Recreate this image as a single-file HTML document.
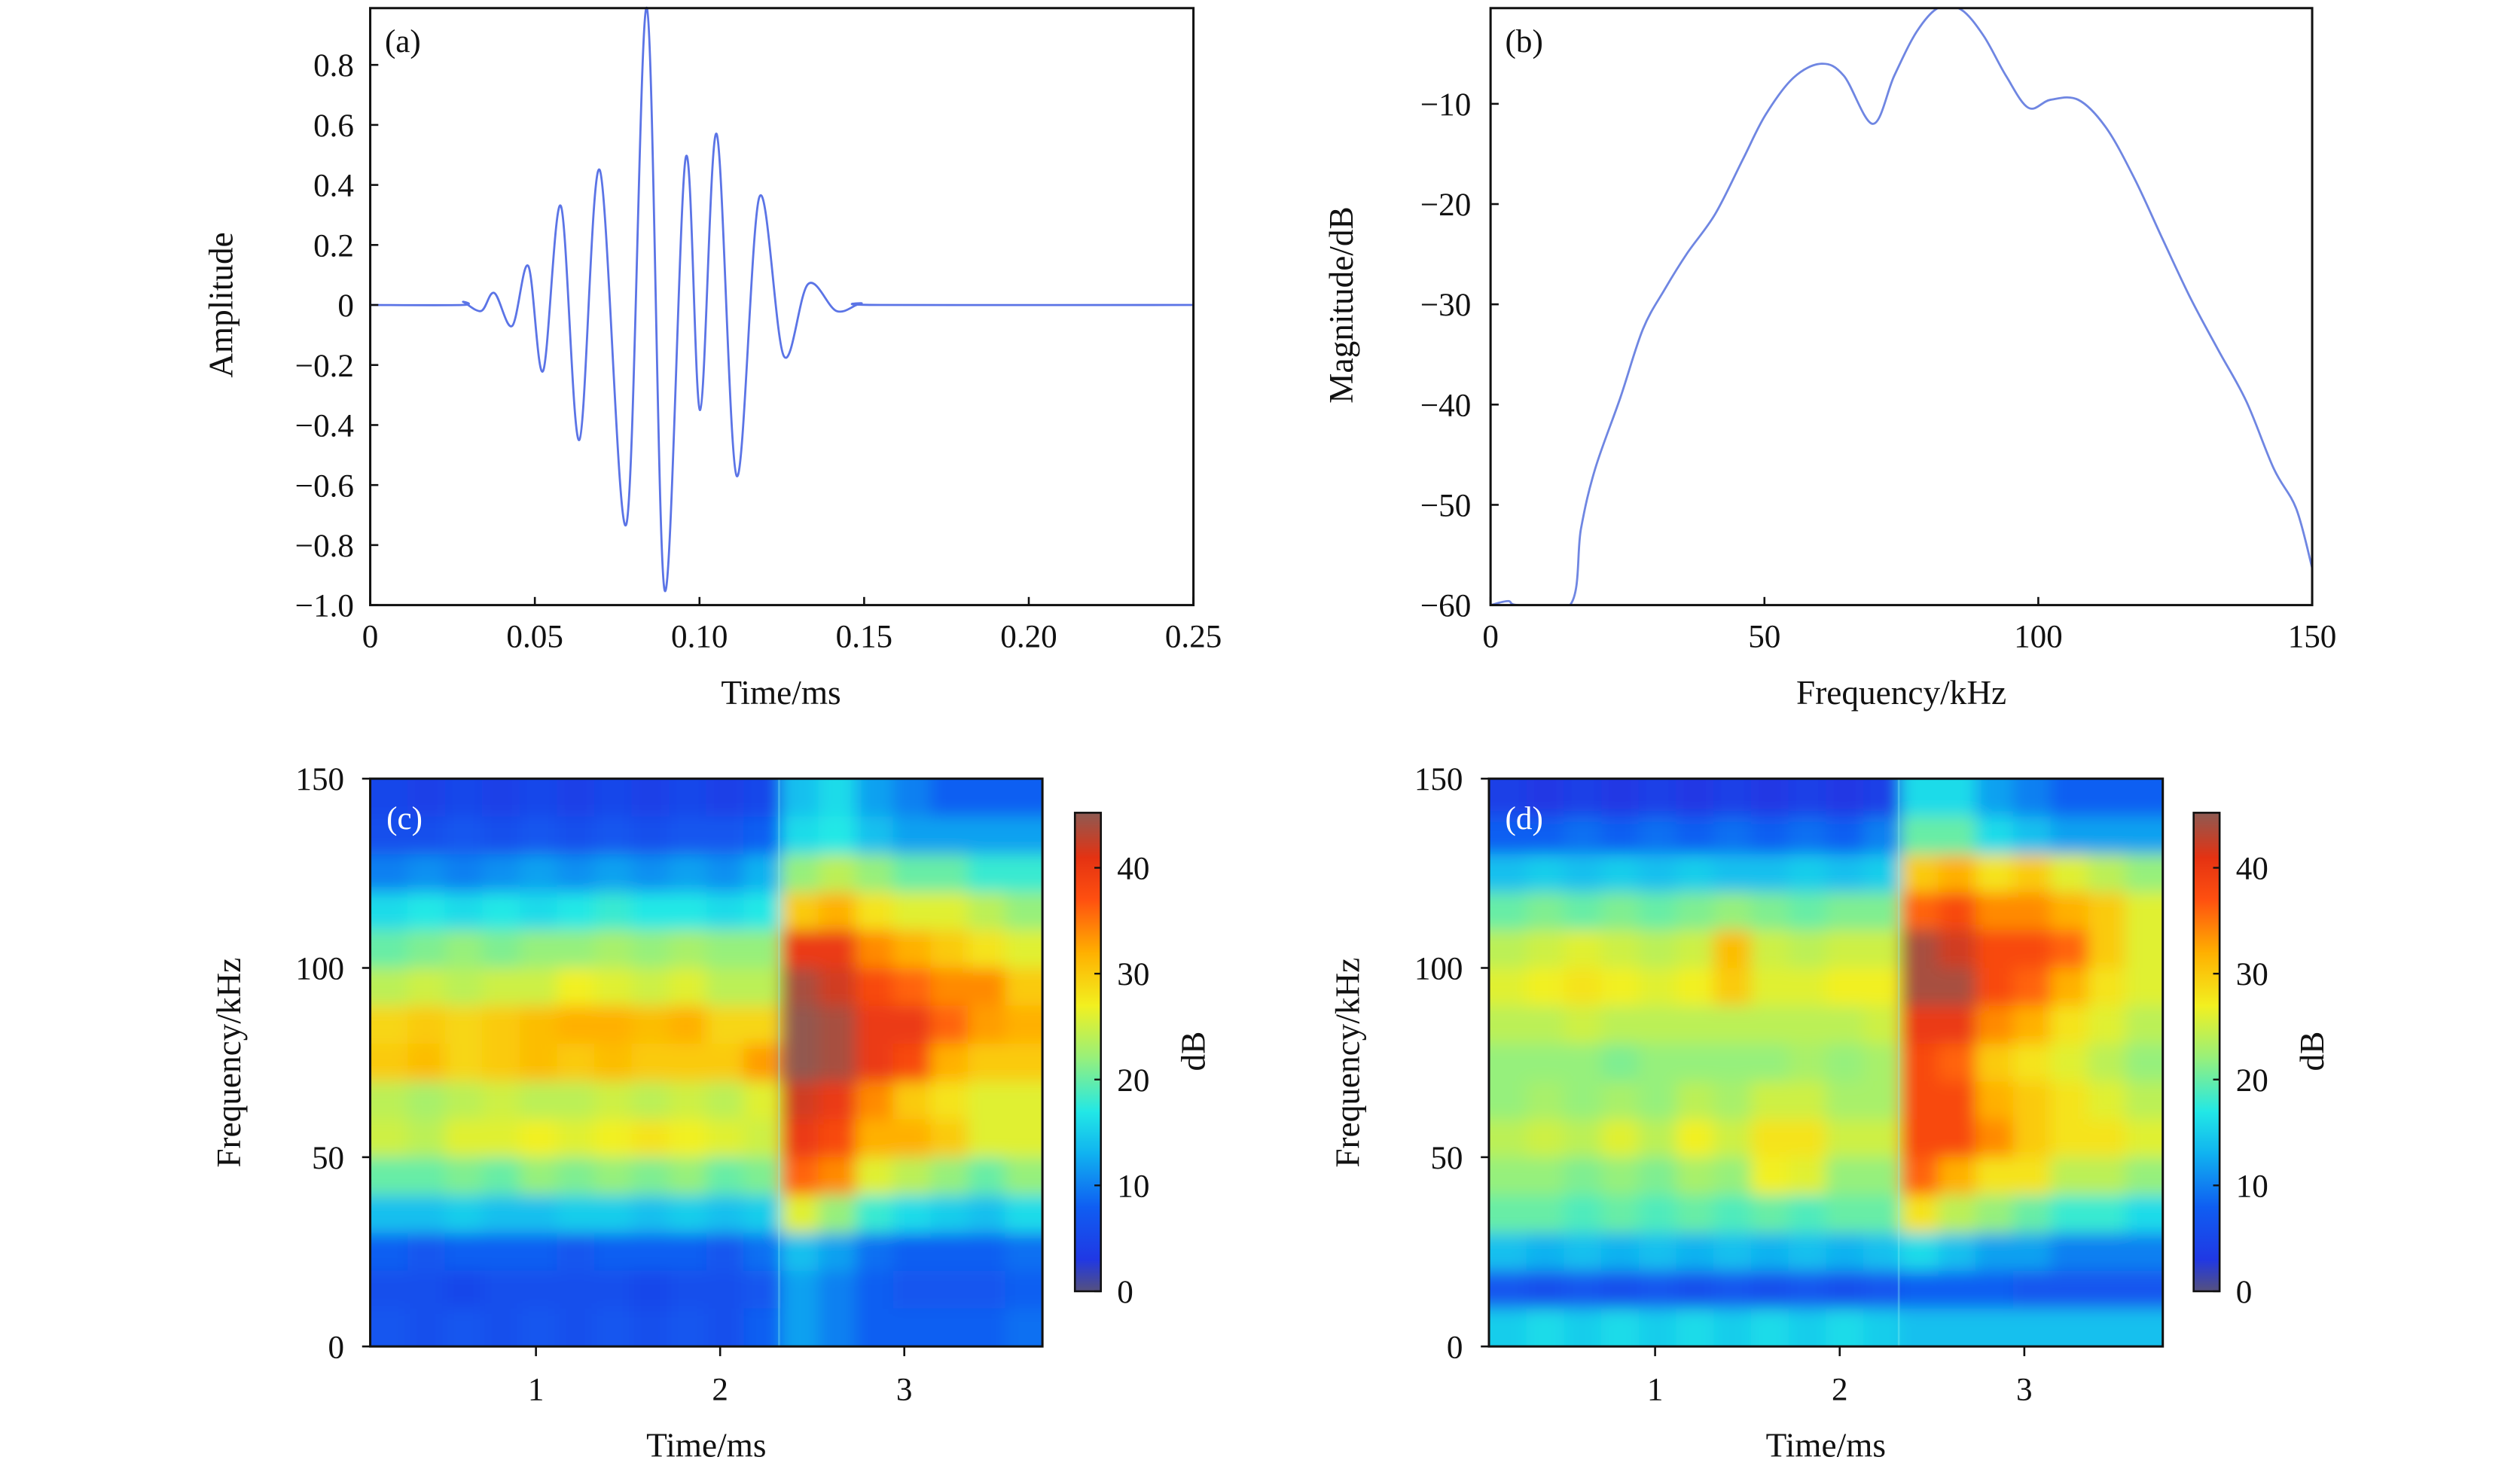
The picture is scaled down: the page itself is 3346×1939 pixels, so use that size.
<!DOCTYPE html>
<html><head><meta charset="utf-8"><style>
html,body{margin:0;padding:0;background:#fff;}
svg{display:block;}
text{font-family:"Liberation Serif",serif;fill:#111;}
</style></head><body>
<svg id="fig" width="3346" height="1939" viewBox="0 0 1552 900" preserveAspectRatio="none" xmlns="http://www.w3.org/2000/svg">
<defs>
<filter id="blur" x="-5%" y="-5%" width="110%" height="110%"><feGaussianBlur stdDeviation="5"/></filter>
<clipPath id="clipC"><rect x="228" y="480" width="414" height="350"/></clipPath>
<clipPath id="clipD"><rect x="917" y="480" width="415" height="350"/></clipPath>
<clipPath id="clipB"><rect x="918" y="5" width="506" height="368"/></clipPath>
</defs>
</svg>
<script>
// ---------- data ----------
const waveT = [0,0.028,0.0283,0.0337,0.0377,0.0431,0.048,0.0525,0.0579,0.0635,0.0697,0.0778,0.084,0.0894,0.0958,0.1002,0.1052,0.1113,0.1182,0.1256,0.133,0.1416,0.149,0.155,0.25];
const waveA = [0,0,0.01,-0.02,0.04,-0.07,0.13,-0.22,0.33,-0.45,0.45,-0.73,0.99,-0.95,0.49,-0.35,0.57,-0.57,0.36,-0.17,0.07,-0.02,0.005,0,0];
const specF = [0,3.2,5,14.5,16.5,19.1,23.7,27.8,31.8,35.9,41,46.1,50.2,55.3,60.4,64.5,69.8,73.7,77.8,81.8,85.9,90,94.1,98.2,102.2,107.3,112.4,117.6,122.7,127.8,132.9,138,143,147.1,150];
const specDB = [-60,-59.6,-60,-60,-52.4,-46.4,-39.3,-32.5,-28.5,-24.9,-21,-15.5,-11.1,-7.4,-6,-7.2,-12,-7.2,-2.8,-0.4,-0.6,-3.2,-7.2,-10.4,-9.6,-9.6,-12.4,-17.5,-23.5,-29.4,-34.6,-39.7,-46.4,-50.4,-56.3];
const aTicksY = [0.8,0.6,0.4,0.2,0,-0.2,-0.4,-0.6,-0.8,-1.0];
const aTickLabY = ["0.8","0.6","0.4","0.2","0","−0.2","−0.4","−0.6","−0.8","−1.0"];
const aTicksX = [0,0.05,0.10,0.15,0.20,0.25];
const aTickLabX = ["0","0.05","0.10","0.15","0.20","0.25"];
const bTicksY = [-10,-20,-30,-40,-50,-60];
const bTickLabY = ["−10","−20","−30","−40","−50","−60"];
const bTicksX = [0,50,100,150];
const sTicksY = [150,100,50,0];
const sTicksX = [1,2,3];
const cbTicks = [40,30,20,10,0];
const specC = [
[5,6,10,16,20,24,29,30,24,25,20,14,8,6,7],
[4,6,11,17,21,25,30,31,23,24,20,14,7,6,6],
[5,7,10,16,22,24,29,29,24,26,21,15,8,5,7],
[4,6,11,17,21,25,30,30,25,26,20,14,8,6,6],
[5,7,12,16,22,25,31,31,24,27,22,14,8,6,7],
[4,6,11,17,22,27,32,30,24,26,21,15,7,6,6],
[5,7,12,18,23,26,32,31,25,27,22,15,8,6,7],
[4,6,11,17,22,25,31,30,24,28,21,14,8,5,6],
[5,7,12,17,23,26,32,30,25,27,22,15,8,6,7],
[4,7,11,16,22,24,29,30,24,26,20,14,7,6,6],
[5,8,13,17,22,24,29,33,26,25,21,15,9,7,8],
[14,16,22,30,40,44,45,45,42,40,36,26,14,12,12],
[16,17,24,32,40,42,44,44,40,38,34,22,12,10,10],
[12,14,22,28,34,38,40,40,34,32,26,18,9,8,8],
[10,12,20,26,32,36,40,38,30,32,24,16,8,7,8],
[8,12,20,26,30,34,36,32,28,30,22,15,8,7,8],
[8,12,18,24,28,34,33,30,26,26,20,14,8,7,8],
[8,12,18,22,26,30,32,30,26,26,22,16,9,8,9]];
const specD = [
[4,8,14,20,24,26,24,22,22,24,22,20,14,7,15],
[3,8,15,21,25,27,24,22,23,25,22,20,13,6,16],
[4,9,14,20,26,28,25,22,22,24,21,19,14,7,15],
[3,8,15,21,25,27,24,21,23,26,22,20,13,6,16],
[4,9,14,20,24,26,24,22,22,24,21,19,14,7,15],
[3,8,15,21,25,27,24,22,24,27,23,20,13,6,16],
[4,9,14,22,31,30,24,22,23,25,22,19,14,7,15],
[3,8,14,21,25,26,24,22,25,28,27,20,13,6,16],
[4,9,15,20,24,26,24,23,25,28,26,19,14,7,15],
[3,8,14,21,25,27,24,22,23,25,22,20,13,6,16],
[4,10,15,21,25,27,25,23,23,25,22,20,14,7,15],
[16,20,30,36,44,44,40,38,38,38,36,28,16,8,14],
[16,20,32,38,42,44,40,36,38,38,32,24,14,8,14],
[12,16,28,34,38,38,34,30,32,34,28,22,12,8,14],
[10,14,30,34,38,36,32,28,30,30,28,20,12,7,14],
[8,12,26,32,36,32,28,26,28,28,24,18,10,7,14],
[8,12,24,30,30,28,26,24,26,28,24,18,10,7,14],
[8,12,22,26,26,26,24,22,24,26,22,16,10,7,14]];
const cmapV = [0,3,8,13,17,22,27,32,37,41,45.2];
const cmapC = ["#56517c","#2038e4","#0f5ef2","#10b2f0","#22e8e6","#96f07c","#f2f020","#ffb000","#ff5010","#e43212","#8e5a52"];

// ---------- helpers ----------
const NS="http://www.w3.org/2000/svg";
const svg=document.getElementById('fig');
function el(tag,attrs,parent){const e=document.createElementNS(NS,tag);for(const k in attrs)e.setAttribute(k,attrs[k]);(parent||svg).appendChild(e);return e;}
function txt(s,x,y,size,anchor,parent,rot){const t=el('text',{x:x,y:y,'font-size':size,'text-anchor':anchor||'middle'},parent);if(rot)t.setAttribute('transform','rotate(-90 '+x+' '+y+')');t.textContent=s;return t;}
function hex(c){return [parseInt(c.substr(1,2),16),parseInt(c.substr(3,2),16),parseInt(c.substr(5,2),16)];}
function cmap(v){v=Math.max(0,Math.min(45.2,v));for(let i=1;i<cmapV.length;i++){if(v<=cmapV[i]){const f=(v-cmapV[i-1])/(cmapV[i]-cmapV[i-1]);const a=hex(cmapC[i-1]),b=hex(cmapC[i]);return 'rgb('+a.map((q,j)=>Math.round(q+(b[j]-q)*f)).join(',')+')';}}return cmapC[cmapC.length-1];}
function smoothPath(pts){let d='M'+pts[0][0]+','+pts[0][1];for(let i=0;i<pts.length-1;i++){const p0=pts[Math.max(0,i-1)],p1=pts[i],p2=pts[i+1],p3=pts[Math.min(pts.length-1,i+2)];const c1=[p1[0]+(p2[0]-p0[0])/6,p1[1]+(p2[1]-p0[1])/6],c2=[p2[0]-(p3[0]-p1[0])/6,p2[1]-(p3[1]-p1[1])/6];d+=' C'+c1[0].toFixed(2)+','+c1[1].toFixed(2)+' '+c2[0].toFixed(2)+','+c2[1].toFixed(2)+' '+p2[0].toFixed(2)+','+p2[1].toFixed(2);}return d;}

// ---------- panel (a) ----------
const A={x0:228,x1:735,y0:5,y1:373};
const ax=t=>A.x0+t/0.25*(A.x1-A.x0);
const ay=v=>188-v*185;
const ga=el('g',{});  
const wp=el('path',{d:smoothPath(waveT.map((t,i)=>[ax(t),ay(waveA[i])])),fill:'none',stroke:'#5b74e6','stroke-width':1.3},ga);
 
const fa=el('rect',{x:A.x0,y:A.y0,width:A.x1-A.x0,height:A.y1-A.y0,fill:'none',stroke:'#111','stroke-width':1.4},ga);
 
aTicksY.forEach((v,i)=>{el('line',{x1:A.x0,x2:A.x0+5,y1:ay(v),y2:ay(v),stroke:'#111','stroke-width':1.2},ga);const t=txt(aTickLabY[i],218,ay(v)+7,20,'end',ga);});
aTicksX.forEach((v,i)=>{el('line',{x1:ax(v),x2:ax(v),y1:A.y1,y2:A.y1-5,stroke:'#111','stroke-width':1.2},ga);const t=txt(aTickLabX[i],ax(v),399,20,'middle',ga);});
let t1=txt('(a)',237,32,20,'start',ga);  
t1=txt('Time/ms',481,434,21,'middle',ga);  
t1=txt('Amplitude',143,188,21,'middle',ga,true);  

// ---------- panel (b) ----------
const B={x0:918,x1:1424,y0:5,y1:373};
const bx=f=>B.x0+f/150*(B.x1-B.x0);
const by=d=>64+(-10-d)*6.18;
const gb=el('g',{});  
const gbc=el('g',{'clip-path':'url(#clipB)'},gb);
const bp=el('path',{d:smoothPath(specF.map((f,i)=>[bx(f),by(specDB[i])])),fill:'none',stroke:'#6f86e2','stroke-width':1.3},gbc);
 
const fb=el('rect',{x:B.x0,y:B.y0,width:B.x1-B.x0,height:B.y1-B.y0,fill:'none',stroke:'#111','stroke-width':1.4},gb);
 
bTicksY.forEach((v,i)=>{el('line',{x1:B.x0,x2:B.x0+5,y1:by(v),y2:by(v),stroke:'#111','stroke-width':1.2},gb);const t=txt(bTickLabY[i],906,by(v)+7,20,'end',gb);});
bTicksX.forEach(v=>{el('line',{x1:bx(v),x2:bx(v),y1:B.y1,y2:B.y1-5,stroke:'#111','stroke-width':1.2},gb);const t=txt(String(v),bx(v),399,20,'middle',gb);});
t1=txt('(b)',927,32,20,'start',gb);  
t1=txt('Frequency/kHz',1171,434,21,'middle',gb);  
t1=txt('Magnitude/dB',833,188,21,'middle',gb,true);  

// ---------- spectrograms ----------
function spectro(grid,x0,x1,cbx,label,clip,name){
  const y0=480,y1=830,tmin=0.1,tmax=3.75;
  const sx=t=>x0+(t-tmin)/(tmax-tmin)*(x1-x0);
  const sy=f=>y1-f/150*(y1-y0);
  const g=el('g',{});  
  const cg=el('g',{'clip-path':'url(#'+clip+')'},g);
  const hg=el('g',{filter:'url(#blur)'},cg);
  const nc=grid.length,nr=grid[0].length,dt=(tmax-tmin)/nc,df=150/nr;
  grid.forEach((col,c)=>col.forEach((v,r)=>{
    let xa=sx(tmin+c*dt),xb=sx(tmin+(c+1)*dt),ya=sy(150-r*df),yb=sy(150-(r+1)*df);
    if(c===0)xa-=25; if(c===nc-1)xb+=25; if(r===0)ya-=25; if(r===nr-1)yb+=25;
    const rc=el('rect',{x:xa,y:ya,width:xb-xa+0.5,height:yb-ya+0.5,fill:cmap(v)},hg);
    
    
  }));
  const ln=el('line',{x1:sx(2.32),x2:sx(2.32),y1:y0,y2:y1,stroke:'#8ff4f0','stroke-width':1.2,opacity:0.35},cg);
   
  const fr=el('rect',{x:x0,y:y0,width:x1-x0,height:y1-y0,fill:'none',stroke:'#111','stroke-width':1.4},g);
   
  sTicksY.forEach(v=>{el('line',{x1:x0,x2:x0-5,y1:sy(v),y2:sy(v),stroke:'#111','stroke-width':1.2},g);const t=txt(String(v),x0-16,sy(v)+7,20,'end',g);});
  sTicksX.forEach(v=>{el('line',{x1:sx(v),x2:sx(v),y1:y1,y2:y1+6,stroke:'#111','stroke-width':1.2},g);const t=txt(String(v),sx(v),863,20,'middle',g);});
  let t=txt(label,x0+10,511,20,'start',g); t.setAttribute('fill','#fff'); t.style.fill='#fff';  
  t=txt('Time/ms',(x0+x1)/2,898,21,'middle',g);  
  t=txt('Frequency/kHz',x0-80,655,21,'middle',g,true);  
  const cy0=501,cy1=796,cb=v=>cy1-v/45.2*(cy1-cy0);
  const cbg=el('g',{},g);  
  for(let i=0;i<cmapV.length-1;i++){
    const id='cg'+name+i;
    const lg=el('linearGradient',{id:id,x1:0,y1:1,x2:0,y2:0},svg.querySelector('defs'));
    el('stop',{offset:0,'stop-color':cmapC[i]},lg); el('stop',{offset:1,'stop-color':cmapC[i+1]},lg);
    el('rect',{x:cbx,y:cb(cmapV[i+1]),width:16,height:cb(cmapV[i])-cb(cmapV[i+1])+0.3,fill:'url(#'+id+')'},cbg);
  }
  el('rect',{x:cbx,y:cy0,width:16,height:cy1-cy0,fill:'none',stroke:'#111','stroke-width':1.2},cbg);
  cbTicks.forEach(v=>{el('line',{x1:cbx+16,x2:cbx+12,y1:cb(v),y2:cb(v),stroke:'#111','stroke-width':1.1},cbg);const tt=txt(String(v),cbx+26,cb(v)+7,20,'start',cbg);});
  t=txt('dB',cbx+80,648,21,'middle',cbg,true);  
}
spectro(specC,228,642,662,'(c)','clipC','panel-c-spectrogram');
spectro(specD,917,1332,1351,'(d)','clipD','panel-d-spectrogram');
</script>
</body></html>
